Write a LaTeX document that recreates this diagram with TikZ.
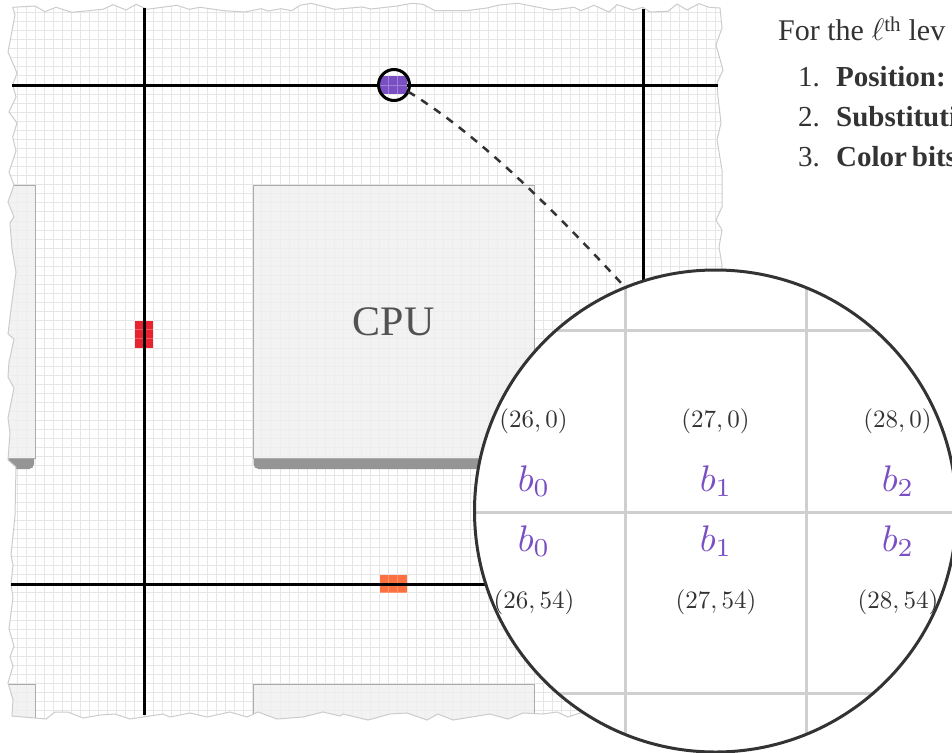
\documentclass[tikz,border=0pt]{standalone}
\usepackage{amsmath, amssymb}
\usepackage{fontspec}
\setmainfont{Liberation Serif}
\usepackage{tikz}
\usetikzlibrary{shapes,arrows,positioning}
\definecolor{ink}{HTML}{333333}
\definecolor{bitviolet}{HTML}{7B4FC4}
\definecolor{tornline}{HTML}{CCCCCC}
\definecolor{meshline}{HTML}{E6E6E6}
\definecolor{chipfill}{HTML}{EFEFEF}
\definecolor{chipedge}{HTML}{ABABAB}
\definecolor{chipshade}{HTML}{959595}
\definecolor{lensline}{HTML}{CFCFCF}
\def\tornedge{(12.7,7.3) -- (35,6) -- (45,11.7) -- (56,7.3) -- (72,12.3) -- (103,9.3) -- (113,4.7) -- (126,10) -- (136,4.3) -- (147,9.3) -- (177,5.3) -- (189,9.3) -- (200,7.3) -- (224,10.7) -- (245,12) -- (261,8.7) -- (268,11) -- (281,8.7) -- (292,10.7) -- (300,5.3) -- (311,3.3) -- (335,9.3) -- (362,7) -- (371,9) -- (397,6) -- (412,3.3) -- (423,4.3) -- (435,10.7) -- (466,10.7) -- (487,8) -- (499,5) -- (518,3.3) -- (552,10) -- (574,7.3) -- (581,10.7) -- (594,5.3) -- (609,12) -- (617,4.7) -- (633,10) -- (643,7.3) -- (650,12) -- (668,11.3) -- (677,4) -- (687,10) -- (699,3.7) -- (709,7.3) -- (720,8) -- (722,28) -- (716,45) -- (723,70) -- (717,83) -- (718,97) -- (721,123) -- (717,140) -- (722,170) -- (722,207) -- (716,220) -- (722,230) -- (719,247) -- (722,265) -- (720,400) -- (722,600) -- (720,716) -- (580,713) -- (568,717) -- (557,712) -- (543,714) -- (523,713) -- (508,719) -- (490,714) -- (453,720) -- (438,714) -- (427,720) -- (407,713) -- (390,714) -- (368,720) -- (343,714) -- (340,716) -- (323,712) -- (303,717) -- (277,719) -- (258,712) -- (247,717) -- (230,712) -- (207,717) -- (190,713) -- (170,717) -- (163,714) -- (130,719) -- (115,714) -- (100,715) -- (83,718) -- (68,712) -- (55,712) -- (46,719) -- (35,718) -- (12,716) -- (13,700) -- (8,683) -- (13,666) -- (10,657) -- (14,646) -- (9,629) -- (13,597) -- (11,584) -- (13,565) -- (11,555) -- (15,516) -- (16,467) -- (8,460) -- (10,433) -- (8,418) -- (14,388) -- (8,377) -- (9,362) -- (14,339) -- (8,334) -- (11,309) -- (16,272) -- (12,249) -- (10,223) -- (14,217) -- (8,202) -- (14,185) -- (9,172) -- (16,151) -- (12.7,137) -- (17,123) -- (9,112) -- (16,97) -- (12.7,85) -- (17,73) -- (8,52) -- (15,15) -- cycle}
\begin{document}
\begin{tikzpicture}[
    x=1pt, y=-1pt,
    meshgrid/.style={draw=meshline, line width=1pt, step=9.07pt},
    chipbox/.style={draw=chipedge, line width=1pt, fill=chipfill, fill opacity=.8, text opacity=1, inner sep=0pt, outer sep=0pt},
    chipshadow/.style={fill=chipshade},
    rail/.style={draw=black, line width=3pt},
    hotcell/.style={fill opacity=.92},
    cellmesh/.style={draw=white, opacity=.28, line width=1pt, step=9.07pt},
    focusring/.style={circle, draw=black, line width=3pt, minimum size=31pt, inner sep=0pt, outer sep=0pt},
    lensdisc/.style={circle, fill=white, minimum size=482pt, inner sep=0pt, outer sep=0pt},
    lensrim/.style={draw=ink, line width=3pt},
    lensgrid/.style={draw=lensline, line width=3pt},
    link/.style={draw=ink, line width=2.5pt, dash pattern=on 8pt off 7.5pt},
    pixlabel/.style={text=ink, scale=2.5, inner sep=0pt},
    bitlabel/.style={text=bitviolet, scale=3.7, inner sep=0pt},
    bodytext/.style={text=ink, font=\fontsize{29}{32}\selectfont, inner sep=0pt},
    itemtext/.style={bodytext, text height=20pt, text depth=6pt}
]
    \clip (0,0) rectangle (952,752);
    \useasboundingbox (0,0) rectangle (952,752);

    \fill [white] (0,0) rectangle (952,752);
    \begin{scope}
        \clip \tornedge;
        \begin{scope}[shift={(144,85)}]
            \draw [meshgrid] (-150,650) grid (600,-90);
        \end{scope}
        \fill [chipshadow] (253.5,458) {[rounded corners=5pt] -- (253.5,469) -- (534,469)} -- (534,458) -- cycle;
        \fill [chipshadow] (-10,458) {[rounded corners=5pt] -- (-10,469) -- (34,469)} -- (34,458) -- cycle;
        \node (cpu) [chipbox, minimum width=281pt, minimum height=273pt, text=black!68, font=\fontsize{42}{46}\selectfont] at (393.5,321.5) {CPU};
        \node (leftchip) [chipbox, minimum width=60pt, minimum height=273pt] at (5,321.5) {};
        \node (leftlow) [chipbox, minimum width=60pt, minimum height=80pt] at (5,724) {};
        \node (cpulow) [chipbox, minimum width=281pt, minimum height=80pt] at (393.5,724) {};
    \end{scope}
    \draw [tornline, line width=1pt] \tornedge;

    \begin{scope}[shift={(144,85)}]
        \fill [hotcell, fill={rgb,255:red,232;green,16;blue,30}] (-9.07,235.8) rectangle (9.07,263);
        \draw [cellmesh] (-9.07,263) grid (9.07,235.8);
        \fill [hotcell, fill={rgb,255:red,255;green,100;blue,48}] (235.8,489.8) rectangle (263,508);
        \draw [cellmesh] (235.8,508) grid (263,489.8);
    \end{scope}

    \coordinate (topw) at (12,85);
    \coordinate (tope) at (718,85);
    \coordinate (lowe) at (500,584);
    \coordinate (loww) at (11,584);
    \coordinate (leftn) at (144,8);
    \coordinate (lefts) at (144,715);
    \coordinate (rightn) at (643,9);
    \coordinate (rights) at (643,300);
    \draw [rail] (topw) -- (tope);
    \draw [rail] (loww) -- (lowe);
    \draw [rail] (leftn) -- (lefts);
    \draw [rail] (rightn) -- (rights);

    \begin{scope}
        \clip (394,85) circle (15.5);
        \begin{scope}[shift={(144,85)}]
            \fill [fill=bitviolet] (235.8,-9.07) rectangle (263,9.07);
            \draw [cellmesh] (235.8,9.07) grid (263,-9.07);
        \end{scope}
    \end{scope}
    \node (focus) [focusring] at (394,85) {};

    \node (lens) [lensdisc] at (715.5,511) {};
    \draw [link] (focus.-25) .. controls (478,134) and (555,211) .. (lens.112);
    \node (lenscover) [lensdisc] at (715.5,511) {};
    \begin{scope}
        \clip (715.5,511) circle (241);
        \draw [lensgrid] (625,260) -- (625,760);
        \draw [lensgrid] (806,260) -- (806,760);
        \draw [lensgrid] (470,330) -- (960,330);
        \draw [lensgrid] (470,512) -- (960,512);
        \draw [lensgrid] (470,693) -- (960,693);
    \end{scope}
    \draw [lensrim] (lens.center) circle (241);

    \foreach \col/\xpos/\bit in {26/533/0, 27/715/1, 28/897/2} {
        \node (top\col) [pixlabel] at (\xpos+.5,421) {$(\col,0)$};
        \node (low\col) [pixlabel] at (\xpos+1,602) {$(\col,54)$};
        \node (bita\col) [bitlabel] at (\xpos+1,481) {$b_\bit$};
        \node (bitb\col) [bitlabel] at (\xpos+1,541) {$b_\bit$};
    }

    \node (intro) [bodytext, font=\fontsize{30}{32}\selectfont, anchor=base west] at (778,41) {For the \scalebox{1.25}{$\ell$}\textsuperscript{th} lev};
    \node (pos) [itemtext, anchor=west] at (836,79) {\textbf{Position:}};
    \node (sub) [itemtext, below=14pt of pos.south west, anchor=north west] {\textbf{Substituti}};
    \node (col) [itemtext, below=14pt of sub.south west, anchor=north west] {\textbf{Color\,bits}};
    \node (numa) [itemtext, left=16pt of pos] {1.};
    \node (numb) [itemtext, left=16pt of sub] {2.};
    \node (numc) [itemtext, left=16pt of col] {3.};
\end{tikzpicture}
\end{document}
